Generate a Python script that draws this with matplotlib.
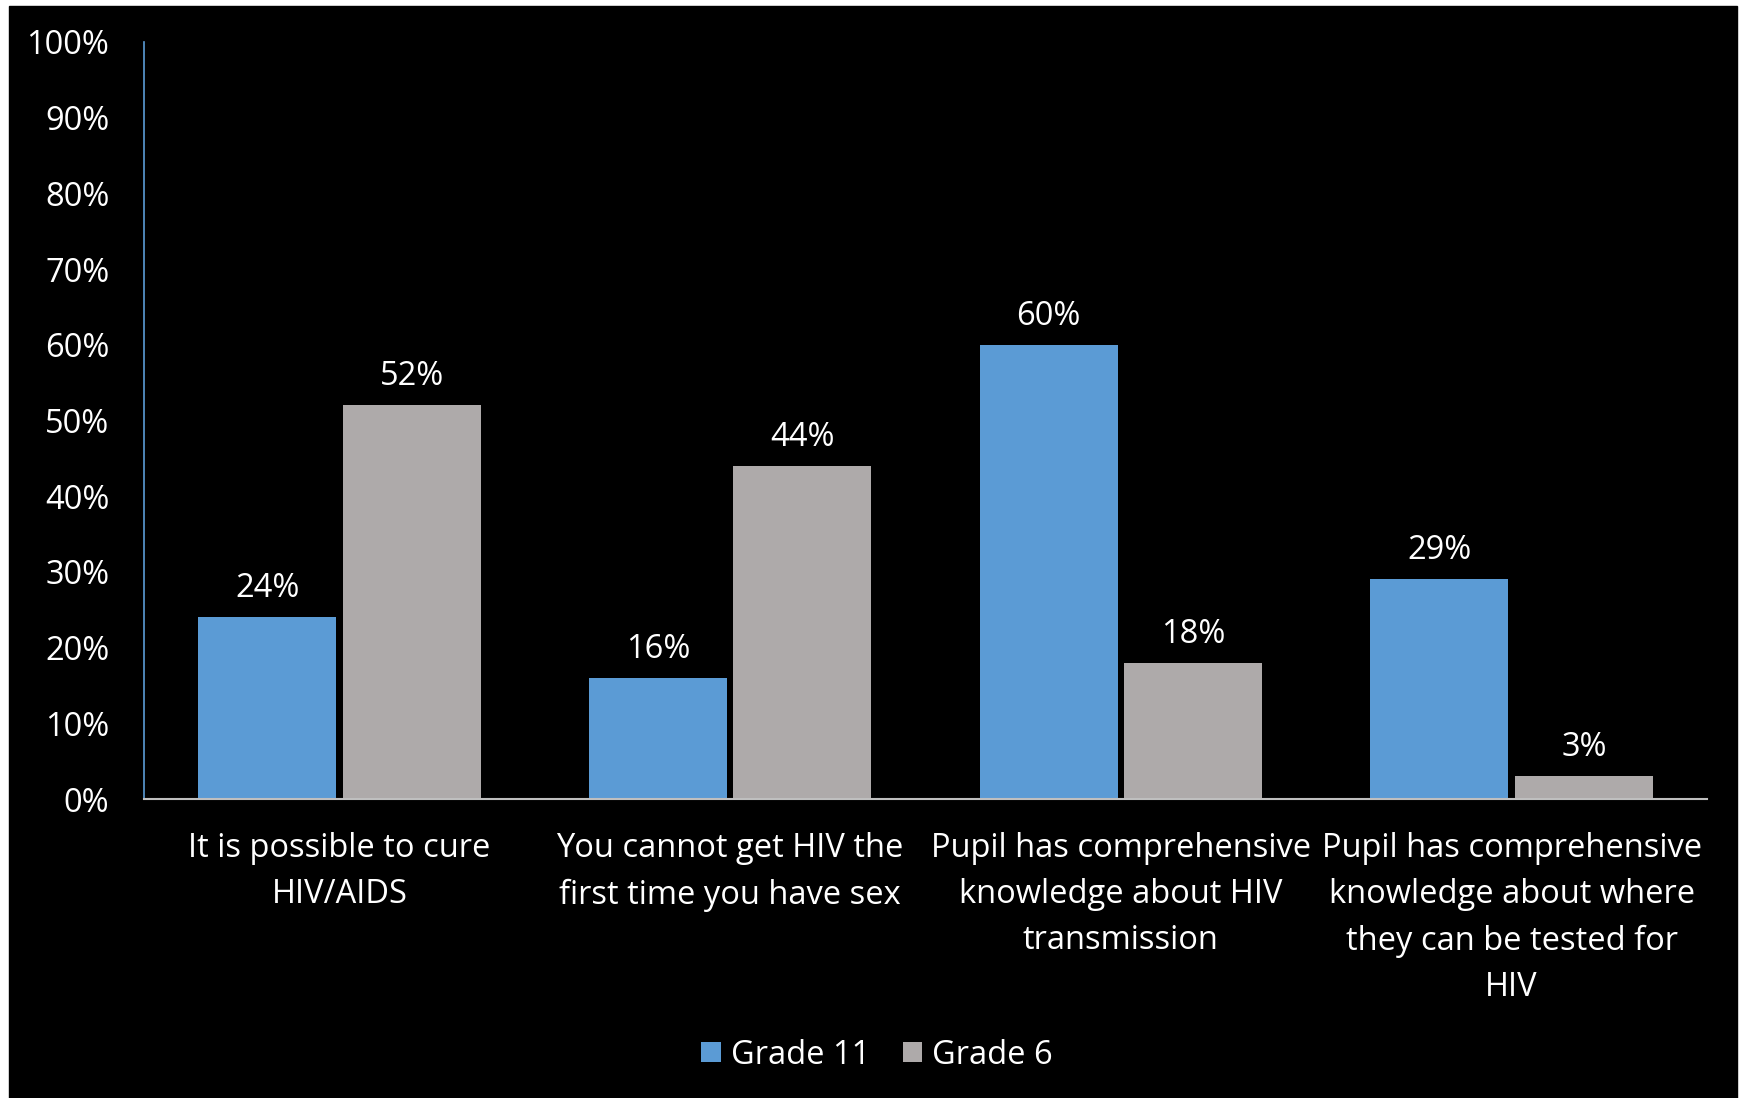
import numpy as np
import matplotlib
matplotlib.use("Agg")
import matplotlib.pyplot as plt
from matplotlib.patches import Rectangle

# data
categories = [
    "It is possible to cure\nHIV/AIDS",
    "You cannot get HIV the\nfirst time you have sex",
    "Pupil has comprehensive\nknowledge about HIV\ntransmission",
    "Pupil has comprehensive\nknowledge about where\nthey can be tested for\nHIV",
]
grade11 = [24, 16, 60, 29]
grade6 = [52, 44, 18, 3]
series_names = ["Grade 11", "Grade 6"]
yticks = list(range(0, 101, 10))

blue = "#5B9BD5"
grey = "#AEAAAA"

plt.rcParams['font.family'] = ['Open Sans', 'DejaVu Sans']

W, H = 1741, 1098
fig = plt.figure(figsize=(W / 100, H / 100), dpi=100, facecolor="white")
# black slide panel with thin white margins at top/left/right
fig.patches.append(Rectangle((9 / W, 0), (1737 - 9) / W, (H - 6) / H,
                             transform=fig.transFigure, color="black", zorder=-5))

ax = fig.add_axes([144 / W, 1 - 799 / H, (1707 - 144) / W, (799 - 42) / H])
ax.set_facecolor("black")

x = np.arange(len(categories))
bw = 0.353
gap = 0.017
b1 = ax.bar(x - bw / 2 - gap / 2, grade11, bw, color=blue, label=series_names[0], zorder=2)
b2 = ax.bar(x + bw / 2 + gap / 2, grade6, bw, color=grey, label=series_names[1], zorder=2)

for bars, vals in [(b1, grade11), (b2, grade6)]:
    for r, v in zip(bars, vals):
        ax.annotate(f"{v}%", (r.get_x() + r.get_width() / 2, v),
                    xytext=(0, 20.6), textcoords="offset points",
                    ha="center", va="center", color="white", fontsize=23.5)

ax.set_xlim(-0.5, len(categories) - 0.5)
ax.set_ylim(0, 100)
ax.set_yticks(yticks)
ax.set_yticklabels([f"{t}%" for t in yticks], color="white", fontsize=23.5)
ax.set_xticks(x)
ax.set_xticklabels(categories, color="white", fontsize=23.5, linespacing=1.52)
ax.tick_params(axis="both", length=0)
ax.tick_params(axis="y", pad=25)
ax.tick_params(axis="x", pad=24)

for s in ["top", "right"]:
    ax.spines[s].set_visible(False)
ax.spines["left"].set_color(blue)
ax.spines["left"].set_linewidth(1.2)
ax.spines["bottom"].set_color("#BFBFBF")
ax.spines["bottom"].set_linewidth(1.5)

fig.legend(handles=[b1, b2], loc="center", bbox_to_anchor=(877 / W, 1 - 1055 / H),
           ncol=2, frameon=False, fontsize=23.5, labelcolor="white",
           handlelength=0.6, handleheight=0.6, handletextpad=0.3, columnspacing=1.0)

fig.savefig("out.png", dpi=100, facecolor="white")
